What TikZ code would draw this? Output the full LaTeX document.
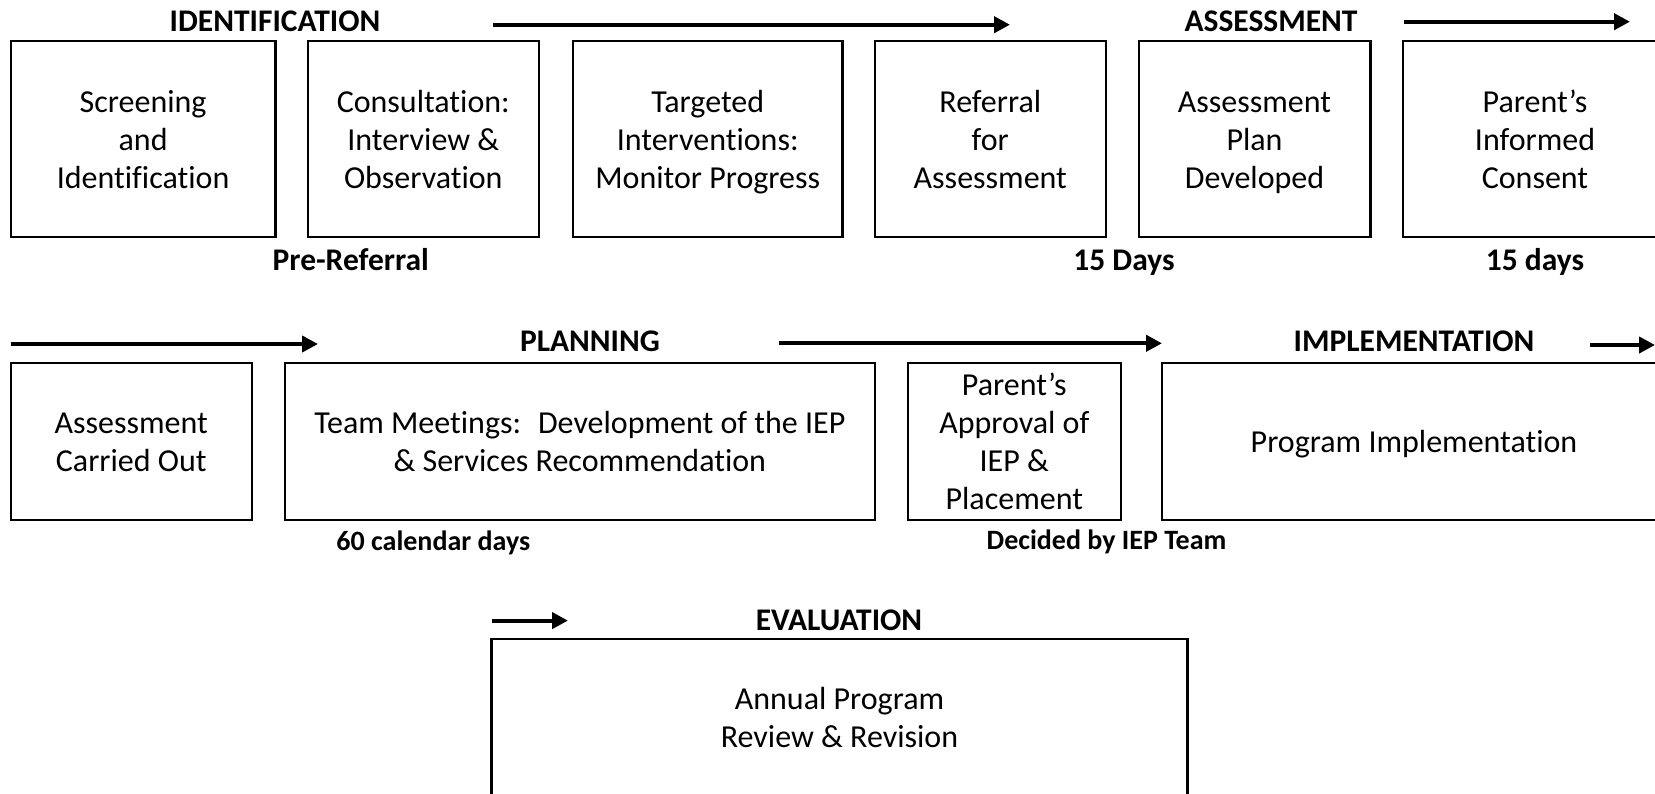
\documentclass[tikz,border=0pt]{standalone}
\usepackage{fontspec}
\setmainfont{Carlito}[Ligatures={NoCommon}]
\usetikzlibrary{arrows.meta}

% strut that fixes line height and depth inside the boxes
\newcommand\boxstrut{\rule[-8pt]{0pt}{38pt}}

\tikzset{
  stepbox/.style={draw, line width=2.2pt, inner sep=0pt, align=center,
    font=\fontsize{32}{38}\selectfont, execute at end node=\boxstrut},
  phase/.style={inner sep=0pt, anchor=base, font=\bfseries\fontsize{31.5}{36}\selectfont},
  timing/.style={inner sep=0pt, anchor=base, font=\bfseries\fontsize{31.5}{36}\selectfont},
  smalltiming/.style={inner sep=0pt, anchor=base, font=\bfseries\fontsize{28}{32}\selectfont},
  flow/.style={line width=4.2pt, -{Triangle[length=16pt,width=16pt]}}
}

\begin{document}
\begin{tikzpicture}[x=1pt,y=-1pt]
\useasboundingbox (0,0) rectangle (1655,793);
\clip (0,0) rectangle (1655,793);

% ---- Row 1: identification and assessment ----
\node[phase] (identification) at (275,31.7) {IDENTIFICATION};
\coordinate (a1s) at (493,24.7);
\coordinate (a1e) at (1010,24.7);
\draw[flow] (a1s) -- (a1e);
\node[phase] (assessment) at (1271,31.7) {ASSESSMENT};
\coordinate (a2s) at (1403.5,21.7);
\coordinate (a2e) at (1630,21.7);
\draw[flow] (a2s) -- (a2e);

\node[stepbox, minimum width=264.8, minimum height=196] (b1) at (143.1,139)
  {\boxstrut Screening\\and\\Identification};
\node[stepbox, minimum width=230.6, minimum height=196] (b2) at (423.3,139)
  {\boxstrut Consultation:\\Interview \&\\Observation};
\node[stepbox, minimum width=269.6, minimum height=196] (b3) at (707.7,139)
  {\boxstrut Targeted\\Interventions:\\Monitor Progress};
\node[stepbox, minimum width=231.4, minimum height=196] (b4) at (990.3,139)
  {\boxstrut Referral\\for\\Assessment};
\node[stepbox, minimum width=231.8, minimum height=196] (b5) at (1254.5,139)
  {\boxstrut Assessment\\Plan\\Developed};
\node[stepbox, minimum width=264.4, minimum height=196] (b6) at (1535,139)
  {\boxstrut Parent’s\\Informed\\Consent};

\node[timing] (prereferral) at (350.8,270) {Pre-Referral};
\node[timing] (days15a) at (1124,270) {15 Days};
\node[timing] (days15b) at (1535,270) {15 days};

% ---- Row 2: planning and implementation ----
\coordinate (a3s) at (10.7,344);
\coordinate (a3e) at (318,344);
\draw[flow] (a3s) -- (a3e);
\node[phase] (planning) at (590,351.7) {PLANNING};
\coordinate (a4s) at (779,343.3);
\coordinate (a4e) at (1162,343.3);
\draw[flow] (a4s) -- (a4e);
\node[phase] (implementation) at (1414,351.7) {IMPLEMENTATION};
\coordinate (a5s) at (1590,345);
\coordinate (a5e) at (1655,345);
\draw[flow] (a5s) -- (a5e);

\node[stepbox, minimum width=241.1, minimum height=157] (bA) at (131.25,441.5)
  {\boxstrut Assessment\\Carried Out};
\node[stepbox, minimum width=590.4, minimum height=157] (bB) at (579.8,441.5)
  {\boxstrut Team Meetings:~ Development of the IEP\\\& Services Recommendation};
\node[stepbox, minimum width=212.6, minimum height=157] (bC) at (1014.3,441.5)
  {\boxstrut Parent’s\\Approval of\\IEP \&\\Placement};
\node[stepbox, minimum width=504, minimum height=157] (bD) at (1414,441.5)
  {\boxstrut Program Implementation};

\node[smalltiming] (days60) at (433.3,550) {60 calendar days};
\node[smalltiming] (decided) at (1106.5,549) {Decided by IEP Team};

% ---- Row 3: evaluation ----
\coordinate (a6s) at (491.5,620.6);
\coordinate (a6e) at (568,620.6);
\draw[flow] (a6s) -- (a6e);
\node[phase] (evaluation) at (839,630.5) {EVALUATION};
\node[stepbox, minimum width=696, minimum height=158.2] (bE) at (839.5,717.7)
  {\boxstrut Annual Program\\Review \& Revision};
\end{tikzpicture}
\end{document}
